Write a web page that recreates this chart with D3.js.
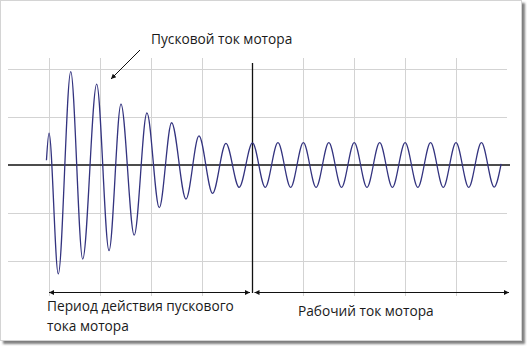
<!DOCTYPE html>
<html><head><meta charset="utf-8">
<script src="https://cdn.jsdelivr.net/npm/d3@7"></script>
<style>body{margin:0;background:#fff}svg{display:block}text{font-family:"Open Sans",sans-serif;font-size:13.7px;fill:#1a1a1a}</style>
</head><body><div id="c"></div>
<script>
// time in ms, current in grid units (extrema of the waveform)
const times = [-2, 0, 7.3, 17.1, 26.5, 37.5, 47.2, 56.6, 67, 77, 86.7, 96.4, 107.7, 117.9, 128.6, 139.1, 149.5,
  160, 170, 180, 190, 200, 210, 220, 230, 240, 250, 260, 270, 280, 290, 300, 310, 320, 330, 340, 350, 355.5];
const current = [0.2, 1.33, -4.54, 3.89, -3.92, 3.37, -3.57, 2.54, -2.92, 2.17, -1.78, 1.76, -1.42, 1.21, -1.18, 0.9, -0.93,
  0.92, -0.93, 0.93, -0.93, 0.93, -0.93, 0.93, -0.93, 0.93, -0.93, 0.93, -0.93, 0.93, -0.93, 0.93, -0.93, 0.93, -0.93, 0.93, -0.92, 0.05];
const gridTimes = [0, 40, 80, 120, 160, 200, 240, 280, 320];
const gridLevels = [-4, -2, 2, 4];
const splitTime = 160;
const labelTop = "Пусковой ток мотора";
const labelLeft = ["Период действия пускового", "тока мотора"];
const labelRight = "Рабочий ток мотора";

const W = 532, H = 351;
const svg = d3.select("#c").append("svg").attr("width", W).attr("height", H);
const defs = svg.append("defs");
const f = defs.append("filter").attr("id", "sh").attr("x", "-5%").attr("y", "-5%").attr("width", "115%").attr("height", "115%");
f.append("feDropShadow").attr("dx", 3).attr("dy", 3).attr("stdDeviation", 1.3).attr("flood-color", "#555").attr("flood-opacity", 0.75);
const mk = defs.append("marker").attr("id", "ah").attr("viewBox", "0 0 10 10").attr("refX", 10).attr("refY", 5)
  .attr("markerWidth", 7).attr("markerHeight", 5).attr("markerUnits", "userSpaceOnUse").attr("orient", "auto-start-reverse");
mk.append("path").attr("d", "M0,0L10,5L0,10z").attr("fill", "#111");

svg.append("rect").attr("x", 0.5).attr("y", 0.5).attr("width", 521).attr("height", 340)
  .attr("fill", "#fff").attr("stroke", "#d4d4d4").attr("filter", "url(#sh)");

const x = d3.scaleLinear().domain([0, 320]).range([49, 456]);
const y = d3.scaleLinear().domain([-4, 4]).range([261, 69]);

// grid
svg.append("g").selectAll("line").data(gridLevels).join("line")
  .attr("x1", 8).attr("x2", 507).attr("y1", d => y(d) + 0.5).attr("y2", d => y(d) + 0.5)
  .attr("stroke", "#d3d3d3").attr("stroke-width", 1);
svg.append("g").selectAll("line").data(gridTimes.filter(d => d !== splitTime)).join("line")
  .attr("x1", d => Math.round(x(d)) + 0.5).attr("x2", d => Math.round(x(d)) + 0.5).attr("y1", 58).attr("y2", 296)
  .attr("stroke", "#d3d3d3").attr("stroke-width", 1);

// zero axis
svg.append("line").attr("x1", 8).attr("x2", 510).attr("y1", y(0)).attr("y2", y(0)).attr("stroke", "#111").attr("stroke-width", 1.3);
// split line
svg.append("line").attr("x1", x(splitTime)).attr("x2", x(splitTime)).attr("y1", 63).attr("y2", 293).attr("stroke", "#111").attr("stroke-width", 1.3);

// waveform
const pts = times.map((t, i) => [t, current[i]]);
svg.append("path").datum(pts)
  .attr("d", d3.line().x(d => x(d[0])).y(d => y(d[1])).curve(d3.curveMonotoneX))
  .attr("fill", "none").attr("stroke", "#33337f").attr("stroke-width", 1.3);

// period arrows
const ay = 292.5;
svg.append("line").attr("x1", x(0)).attr("x2", x(splitTime) - 2.5).attr("y1", ay).attr("y2", ay)
  .attr("stroke", "#111").attr("stroke-width", 1).attr("marker-start", "url(#ah)").attr("marker-end", "url(#ah)");
svg.append("line").attr("x1", x(splitTime) + 2).attr("x2", 509).attr("y1", ay).attr("y2", ay)
  .attr("stroke", "#111").attr("stroke-width", 1).attr("marker-start", "url(#ah)").attr("marker-end", "url(#ah)");

// annotation arrow
svg.append("line").attr("x1", 140).attr("y1", 50).attr("x2", 111).attr("y2", 79)
  .attr("stroke", "#111").attr("stroke-width", 1).attr("marker-end", "url(#ah)");

svg.append("text").attr("x", 151).attr("y", 44).text(labelTop);
svg.append("text").attr("x", 47).attr("y", 311).text(labelLeft[0]);
svg.append("text").attr("x", 47).attr("y", 331).text(labelLeft[1]);
svg.append("text").attr("x", 298).attr("y", 316).text(labelRight);
</script></body></html>
